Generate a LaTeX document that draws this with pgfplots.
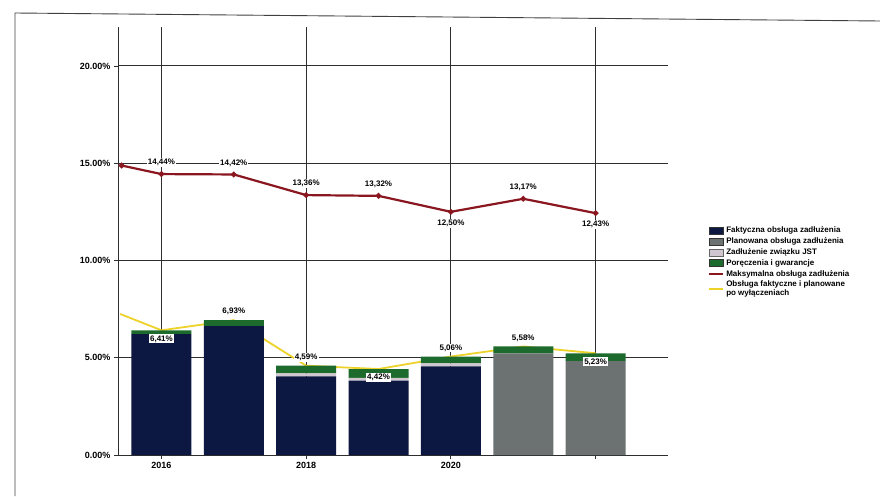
\documentclass[border=0pt]{standalone}
\usepackage{pgfplots}
\pgfplotsset{compat=1.18}
\usepackage{fontspec}
\setmainfont{Liberation Sans}

\definecolor{granat}{HTML}{0C1742}
\definecolor{szary}{HTML}{6C7272}
\definecolor{jst}{HTML}{CFC6CF}
\definecolor{zielony}{HTML}{1D6B2C}
\definecolor{czerwony}{HTML}{8A1620}
\definecolor{zolty}{HTML}{EDD22A}
\definecolor{siatka}{HTML}{2E2E2E}

\tikzset{etykieta/.style={font=\fontsize{8}{9}\selectfont\bfseries, fill=white, inner sep=1pt, text=black}}

\pgfplotsset{
  wspolne/.style={
    scale only axis, width=550pt, height=428pt,
    at={(0pt,0pt)}, anchor=south west,
    xmin=2015.4, xmax=2023.0, ymin=0, ymax=22,
    clip=false,
  },
}

\begin{document}
\begin{tikzpicture}
\path[use as bounding box] (-118pt,-41pt) rectangle (762pt,455pt);
\draw[black!75, line width=0.9pt] (-103pt,-41pt) -- (-103pt,442pt) -- (762pt,434pt);

% siatka, osie i linia zolta (pod slupkami)
\begin{axis}[wspolne,
  axis x line=bottom, axis y line=left,
  axis line style={-, siatka, line width=0.9pt},
  xtick={2016,2018,2020,2022}, xticklabels={2016,2018,2020,{}},
  ytick={0,5,10,15,20},
  yticklabel={\pgfmathprintnumber[fixed,fixed zerofill,precision=2]{\tick}\%},
  /pgf/number format/assume math mode=true,
  tick label style={font=\fontsize{9}{10}\selectfont\bfseries},
  grid=major, grid style={siatka, line width=0.9pt},
  tick style={siatka, line width=0.8pt}, tick align=outside, major tick length=4pt,
]
\addplot[zolty, line width=1.8pt, mark=none] coordinates {
  (2015.43,7.25) (2016,6.41) (2017,6.93) (2018,4.59) (2019,4.42) (2020,5.06) (2021,5.58) (2022,5.23)};
\end{axis}

% slupki skumulowane
\begin{axis}[wspolne, axis lines=none, ticks=none, ybar stacked, bar width=60pt]
\addplot[fill=granat, draw=none] coordinates {
  (2016,6.21) (2017,6.63) (2018,4.04) (2019,3.82) (2020,4.56) (2021,0) (2022,0)};
\addplot[fill=szary, draw=none] coordinates {
  (2016,0) (2017,0) (2018,0) (2019,0) (2020,0) (2021,5.23) (2022,4.83)};
\addplot[fill=jst, draw=none] coordinates {
  (2016,0) (2017,0) (2018,0.15) (2019,0.15) (2020,0.15) (2021,0) (2022,0)};
\addplot[fill=zielony, draw=none] coordinates {
  (2016,0.20) (2017,0.30) (2018,0.40) (2019,0.45) (2020,0.35) (2021,0.35) (2022,0.40)};
\end{axis}

% linia czerwona, etykiety i legenda
\begin{axis}[wspolne, axis lines=none, ticks=none,
  legend style={at={(1.071,0.54)}, anchor=north west, draw=none, fill=white,
    font=\fontsize{8}{8.5}\selectfont\bfseries, row sep=-0.5pt, inner sep=1pt,
    nodes={align=left}},
  legend cell align=left,
]
\addplot[czerwony, line width=2.2pt, mark=*, mark size=1.6pt, mark options={fill=czerwony}, forget plot]
  coordinates {(2015.45,14.88) (2016,14.44) (2017,14.42) (2018,13.36) (2019,13.32) (2020,12.50) (2021,13.17) (2022,12.43)};

\addplot[draw=none, mark=none, forget plot, point meta=explicit symbolic, nodes near coords,
  every node near coord/.append style={etykieta, anchor=south, yshift=7pt}]
  coordinates {(2016,14.44)[14,44\%] (2017,14.42)[14,42\%] (2018,13.36)[13,36\%]
               (2019,13.32)[13,32\%] (2021,13.17)[13,17\%]};
\addplot[draw=none, mark=none, forget plot, point meta=explicit symbolic, nodes near coords,
  every node near coord/.append style={etykieta, anchor=north, yshift=-7pt}]
  coordinates {(2020,12.50)[12,50\%] (2022,12.43)[12,43\%]};

\addplot[draw=none, mark=none, forget plot, point meta=explicit symbolic, nodes near coords,
  every node near coord/.append style={etykieta, anchor=south, yshift=4pt}]
  coordinates {(2017,6.93)[6,93\%] (2018,4.59)[4,59\%] (2020,5.06)[5,06\%] (2021,5.58)[5,58\%]};
\addplot[draw=none, mark=none, forget plot, point meta=explicit symbolic, nodes near coords,
  every node near coord/.append style={etykieta, anchor=north, yshift=-4pt}]
  coordinates {(2016,6.41)[6,41\%] (2019,4.42)[4,42\%] (2022,5.23)[5,23\%]};

\addlegendimage{legend image code/.code={\draw[fill=granat, draw=black!80] (0pt,-3.5pt) rectangle (14pt,3.5pt);}}
\addlegendentry{Faktyczna obsługa zadłużenia}
\addlegendimage{legend image code/.code={\draw[fill=szary, draw=black!80] (0pt,-3.5pt) rectangle (14pt,3.5pt);}}
\addlegendentry{Planowana obsługa zadłużenia}
\addlegendimage{legend image code/.code={\draw[fill=jst, draw=black!60] (0pt,-3.5pt) rectangle (14pt,3.5pt);}}
\addlegendentry{Zadłużenie związku JST}
\addlegendimage{legend image code/.code={\draw[fill=zielony, draw=black!80] (0pt,-3.5pt) rectangle (14pt,3.5pt);}}
\addlegendentry{Poręczenia i gwarancje}
\addlegendimage{legend image code/.code={\draw[czerwony, line width=2pt] (0pt,0pt) -- (14pt,0pt);}}
\addlegendentry{Maksymalna obsługa zadłużenia}
\addlegendimage{legend image code/.code={\draw[zolty, line width=1.4pt] (0pt,0pt) -- (14pt,0pt);}}
\addlegendentry{Obsługa faktyczne i planowane\\po wyłączeniach}
\end{axis}
\end{tikzpicture}
\end{document}
